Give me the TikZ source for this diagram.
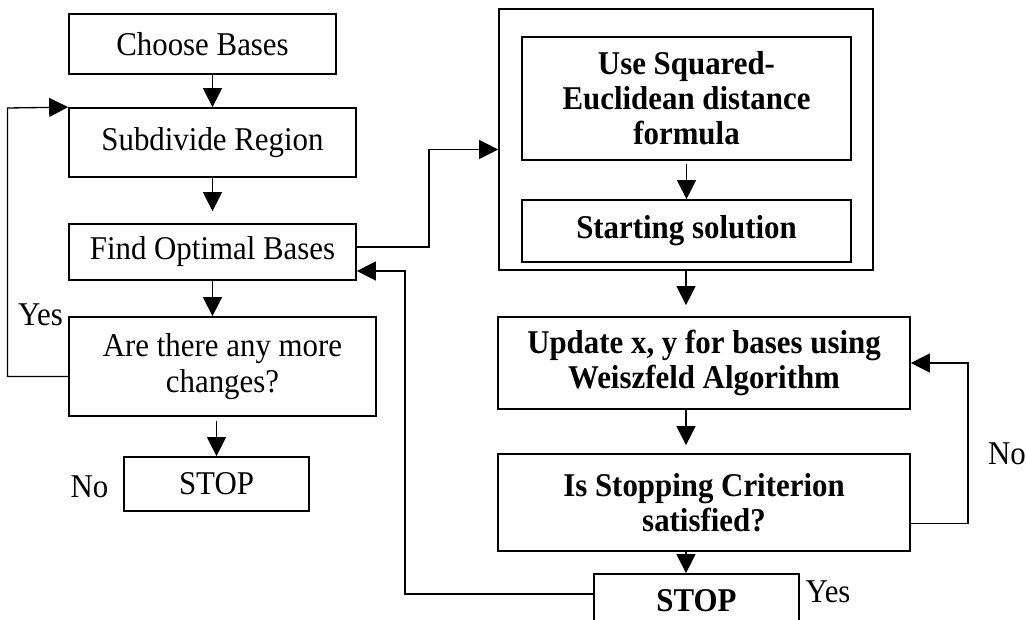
\documentclass[tikz,border=0pt]{standalone}
\usepackage{fontspec}
\setmainfont{Liberation Serif}[FakeStretch=0.93]
\usetikzlibrary{positioning, calc}
\usetikzlibrary{arrows.meta}
\newcommand{\boxfont}{\fontsize{18.9}{20}\selectfont}
\tikzset{
  box/.style={draw, line width=1pt, inner sep=0pt, align=center, font=\boxfont},
  boldbox/.style={box, font=\boxfont\bfseries},
  arr/.style={line width=0.75pt, -{Triangle[length=0.38cm, width=0.38cm]}},
  lbl/.style={inner sep=0pt, font=\boxfont},
}

\begin{document}
\begin{tikzpicture}[x=0.02cm, y=-0.02cm]
            \useasboundingbox (0,0) rectangle (1026,619);
            \clip (0,0) rectangle (1026,619);
            % left column
            \node[box, minimum width=5.34cm, minimum height=1.2cm] (choose) at (202.5,44) {Choose Bases};
            \node[box, minimum width=5.74cm, minimum height=1.38cm] (subdiv) at (212.5,142.5) {Subdivide Region};
            \node[box, minimum width=5.74cm, minimum height=1.12cm] (findopt) at (212.5,252) {Find Optimal Bases};
            \node[box, minimum width=6.14cm, minimum height=1.98cm] (anymore) at (222.5,366.5) {Are there any more\\changes?};
            \node[box, minimum width=3.7cm, minimum height=1.08cm] (stopL) at (216.5,484) {STOP};
            \node[lbl] (yes1) at (40.5,315) {Yes};
            \node[lbl] (no1) at (89.5,487) {No};
            % right column
            \node[draw, line width=1pt, minimum width=7.48cm, minimum height=5.22cm] (outer) at (686,139.5) {};
            \node[boldbox, minimum width=6.58cm, minimum height=2.46cm] (squared) at (686.5,98.5) {Use Squared-\\Euclidean distance\\formula};
            \node[boldbox, minimum width=6.58cm, minimum height=1.24cm] (start) at (686.5,231) {Starting solution};
            \node[boldbox, minimum width=8.24cm, minimum height=1.84cm] (update) at (704,363) {Update x, y for bases using\\Weiszfeld Algorithm};
            \node[boldbox, minimum width=8.24cm, minimum height=1.94cm] (crit) at (704,502.5) {Is Stopping Criterion\\satisfied?};
            \node[boldbox, minimum width=4.1cm, minimum height=1.08cm] (stopR) at (696.5,601) {STOP};
            \node[lbl] (no2) at (1007,454) {No};
            \node[lbl] (yes2) at (828,592) {Yes};
            \coordinate (yesbend) at (7.5,108);
            \coordinate (ret) at (405,271);
            % connectors
            \draw[arr] (choose.south -| subdiv.north) -- (subdiv.north);
            \draw[arr, shorten >=0.24cm] (subdiv.south) -- (findopt.north);
            \draw[arr] (findopt.south) -- (findopt.south |- anymore.north);
            \draw[arr, shorten <=0.08cm] (stopL.north |- anymore.south) -- (stopL.north);
            \draw[arr] ($(anymore.west)+(0,10)$) -| (yesbend) -- (subdiv.north west);
            \draw[arr] ($(findopt.east)+(0,-5)$) -- ++(72,0) |- ($(outer.west)+(0,10)$);
            \draw[arr, shorten <=0.06cm] (squared.south) -- (start.north);
            \draw[arr, shorten >=0.22cm] (outer.south) -- (outer.south |- update.north);
            \draw[arr, shorten >=0.16cm] (update.south -| outer.south) -- (crit.north -| outer.south);
            \draw[arr] (crit.south -| outer.south) -- (stopR.north -| outer.south);
            \draw[arr] ($(crit.east)+(0,21)$) -- ++(57,0) |- (update.east);
            \draw[arr] ($(stopR.north west)+(0,21)$) -| (ret) -- (ret -| findopt.east);
        \end{tikzpicture}
\end{document}
